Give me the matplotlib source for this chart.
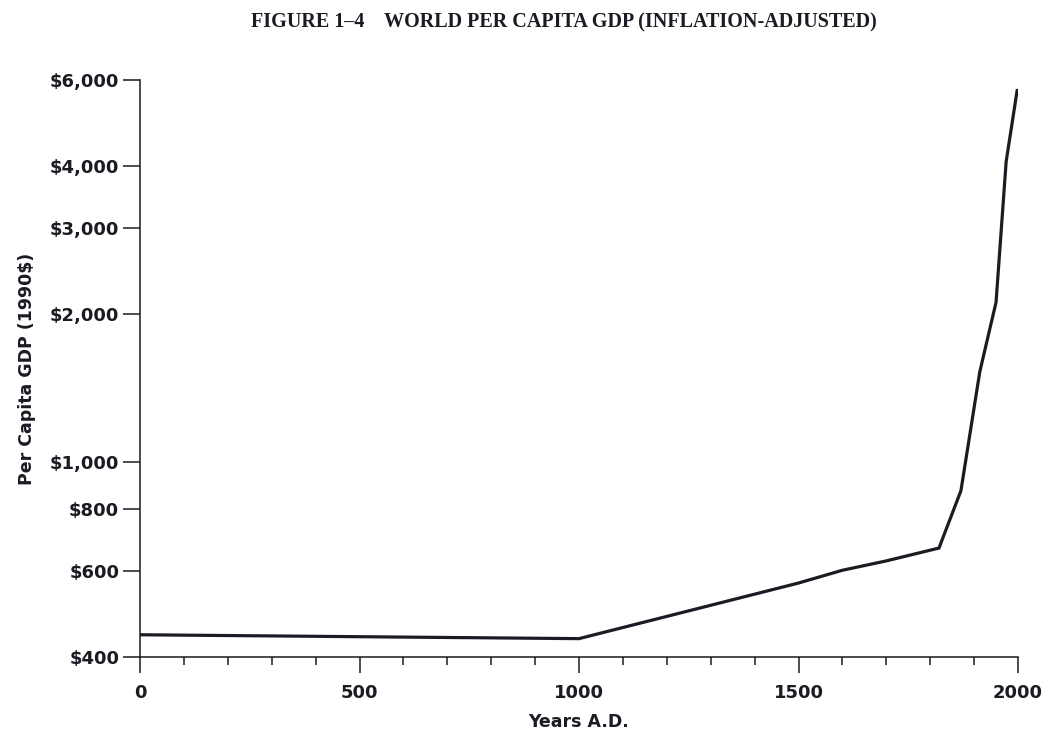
import matplotlib
matplotlib.use("Agg")
import matplotlib.pyplot as plt
from matplotlib.ticker import FixedLocator, MultipleLocator, NullLocator

# world per capita GDP, 1990 dollars
years = [0, 1000, 1500, 1600, 1700, 1820, 1870, 1913, 1950, 1973, 1998]
gdp = [444, 436, 566, 601, 628, 667, 873, 1526, 2114, 4091, 5709]

ytick_values = [400, 600, 800, 1000, 2000, 3000, 4000, 6000]
ytick_labels = ["$400", "$600", "$800", "$1,000", "$2,000", "$3,000", "$4,000", "$6,000"]
xtick_values = [0, 500, 1000, 1500, 2000]

INK = "#1c1a22"

fig = plt.figure(figsize=(10.51, 7.40), dpi=100)
ax = fig.add_axes([140 / 1051, 1 - 657 / 740, 878 / 1051, 577 / 740])

ax.plot(years, gdp, color=INK, lw=2.3, solid_joinstyle="miter")
ax.set_yscale("log")
ax.set_xlim(0, 2000)
ax.set_ylim(400, 6000)

ax.yaxis.set_major_locator(FixedLocator(ytick_values))
ax.yaxis.set_minor_locator(NullLocator())
ax.set_yticklabels(ytick_labels)
ax.xaxis.set_major_locator(FixedLocator(xtick_values))
ax.xaxis.set_minor_locator(MultipleLocator(100))

for s in ["top", "right"]:
    ax.spines[s].set_visible(False)
for s in ["left", "bottom"]:
    ax.spines[s].set_linewidth(1.1)
    ax.spines[s].set_color(INK)

ax.tick_params(axis="y", which="major", direction="out", length=12, width=1.1,
               color=INK, pad=3, labelsize=13)
ax.tick_params(axis="x", which="major", direction="out", length=11.5, width=1.1,
               color=INK, pad=8, labelsize=13)
ax.tick_params(axis="x", which="minor", direction="out", length=6, width=1.1, color=INK)
for lab in ax.get_xticklabels() + ax.get_yticklabels():
    lab.set_fontweight("bold")
    lab.set_color(INK)

ax.set_xlabel("Years A.D.", fontsize=12.5, fontweight="bold", color=INK, labelpad=8)
ax.set_ylabel("Per Capita GDP (1990$)", fontsize=12.5, fontweight="bold", color=INK, labelpad=10)

fig.text(564 / 1051, 1 - 22 / 740,
         "FIGURE 1\u20134    WORLD PER CAPITA GDP (INFLATION-ADJUSTED)",
         ha="center", va="center", fontsize=14.5, fontweight="bold",
         family="Liberation Serif", color=INK)

fig.savefig("out.png", dpi=100, facecolor="white")
